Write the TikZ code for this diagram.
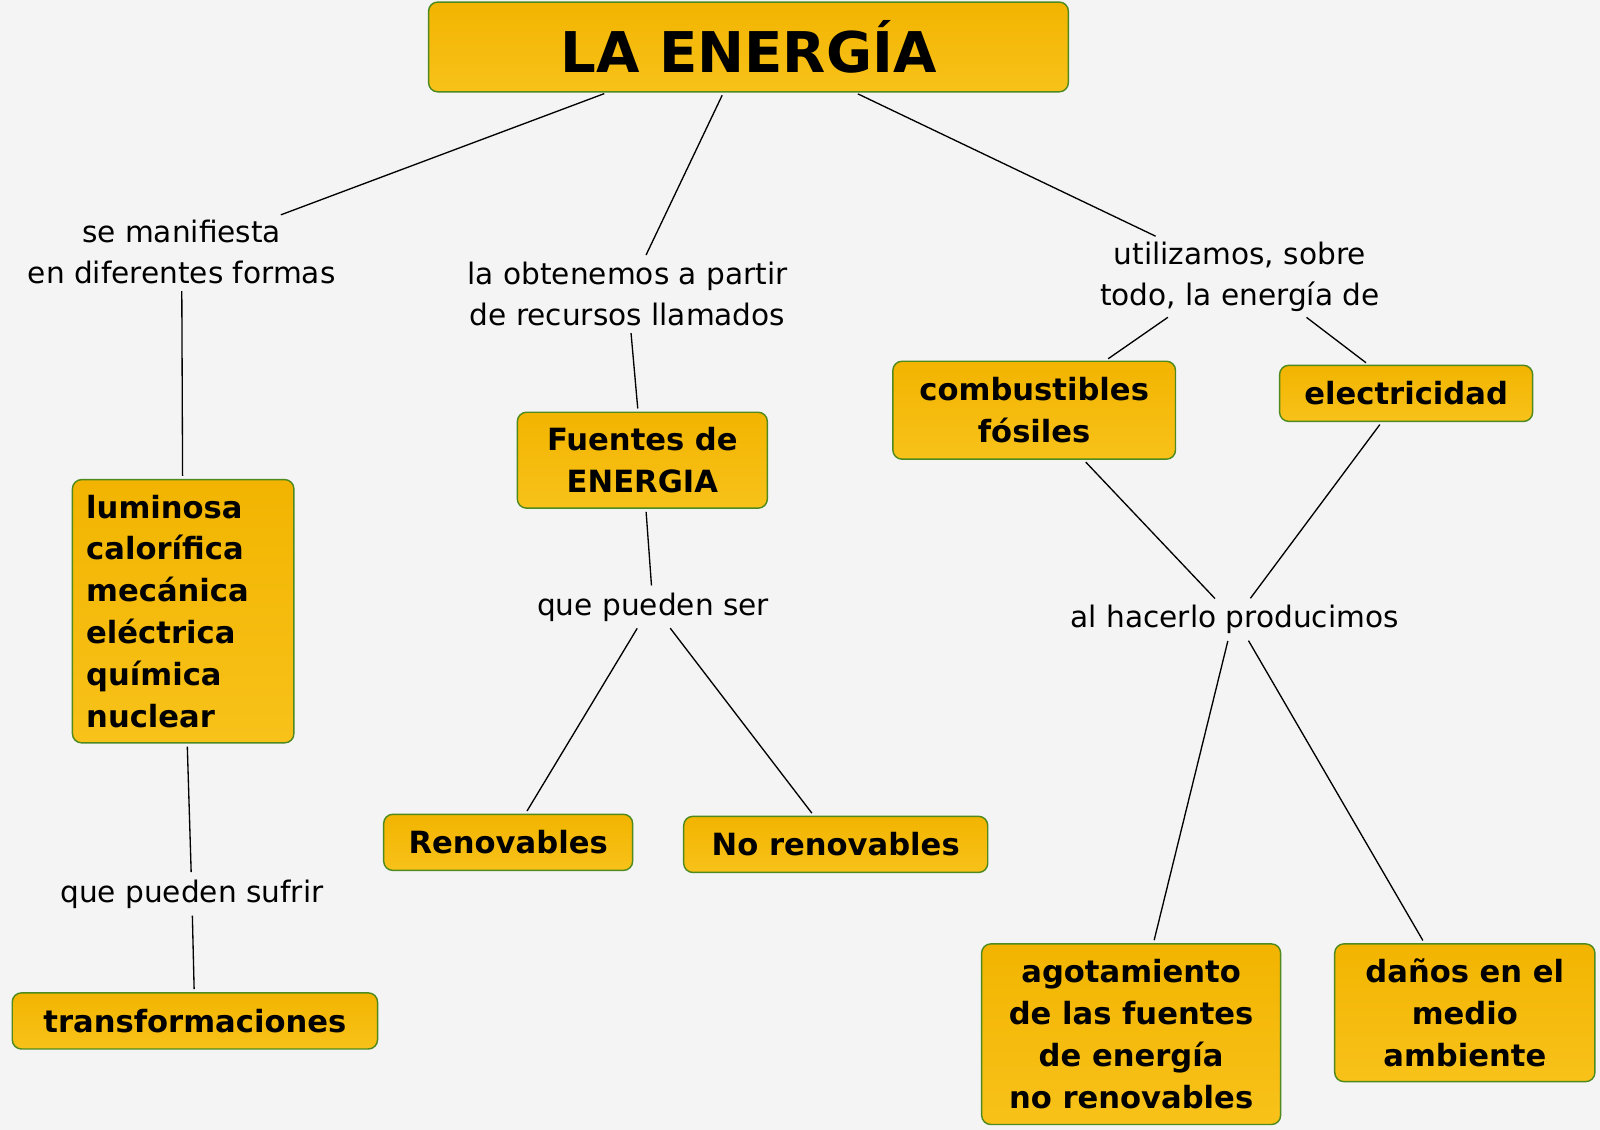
\documentclass[tikz,border=0pt]{standalone}
\usepackage{fontspec}
\setmainfont{DejaVu Sans}
\usetikzlibrary{positioning}
\definecolor{bg}{HTML}{F4F4F4}
\definecolor{boxA}{HTML}{F2B400}
\definecolor{boxB}{HTML}{F8C21A}
\definecolor{edge}{HTML}{4E8A1E}
\tikzset{
  box/.style={draw=edge,line width=1.4pt,rounded corners=9pt,top color=boxA,bottom color=boxB,
    font=\fontsize{30}{41}\selectfont\bfseries,align=center,inner sep=0pt},
  lab/.style={font=\fontsize{29}{40}\selectfont,align=center,inner sep=4pt},
  con/.style={line width=1.3pt,black,shorten <=3pt,shorten >=3pt}
}
\begin{document}
\begin{tikzpicture}[x=1pt,y=-1pt]
\fill[bg] (0,0) rectangle (1568,1107);
\useasboundingbox (0,0) rectangle (1568,1107);
\node[box,minimum width=627pt,minimum height=88pt,font=\fontsize{55}{60}\selectfont\bfseries] (t) at (733.5,46) {LA ENERGÍA};
\node[lab] (l1) at (178,247) {se manifiesta\\en diferentes formas};
\node[lab] (l2) at (615,288) {la obtenemos a partir\\de recursos llamados};
\node[lab] (l3) at (1215,271) {utilizamos, sobre\\todo, la energía de};
\node[box,minimum width=217pt,minimum height=258pt,align=left,text width=190pt] (lum) at (179.5,599) {luminosa\\calorífica\\mecánica\\eléctrica\\química\\nuclear};
\node[box,minimum width=245pt,minimum height=94pt] (fe) at (629.5,451) {Fuentes de\\ENERGIA};
\node[lab] (l4) at (640,595) {que pueden ser};
\node[box,minimum width=244pt,minimum height=55pt] (ren) at (498,825.5) {Renovables};
\node[box,minimum width=298pt,minimum height=55pt] (nren) at (819,827.5) {No renovables};
\node[box,minimum width=277pt,minimum height=96pt] (cf) at (1013.5,402) {combustibles\\fósiles};
\node[box,minimum width=248pt,minimum height=55pt] (el) at (1378,385.5) {electricidad};
\node[lab] (l5) at (1210,607) {al hacerlo producimos};
\node[box,minimum width=293pt,minimum height=177pt] (ag) at (1108.5,1013.5) {agotamiento\\de las fuentes\\de energía\\no renovables};
\node[box,minimum width=255pt,minimum height=135pt] (da) at (1435.5,992.5) {daños en el\\medio\\ambiente};
\node[lab] (l6) at (188,876) {que pueden sufrir};
\node[box,minimum width=358pt,minimum height=55pt] (tr) at (191,1000.5) {transformaciones};
\draw[con] (t.south -| 595,0) -- (l1);
\draw[con] (l1) -- (lum);
\draw[con] (t.south -| 709,0) -- (l2);
\draw[con] (l2) -- (fe);
\draw[con] (fe) -- (l4);
\draw[con] (l4.south -| 626,0) -- (ren);
\draw[con] (l4.south -| 655,0) -- (nren);
\draw[con] (t.south -| 838,0) -- (l3);
\draw[con] (l3.south -| 1147,0) -- (cf);
\draw[con] (l3.south -| 1278,0) -- (el);
\draw[con] (cf.south -| 1062,0) -- (l5);
\draw[con] (el.south -| 1354,0) -- (l5);
\draw[con] (l5.south -| 1204,0) -- (ag);
\draw[con] (l5.south -| 1222,0) -- (da);
\draw[con] (lum) -- (l6);
\draw[con] (l6) -- (tr);
\end{tikzpicture}
\end{document}
